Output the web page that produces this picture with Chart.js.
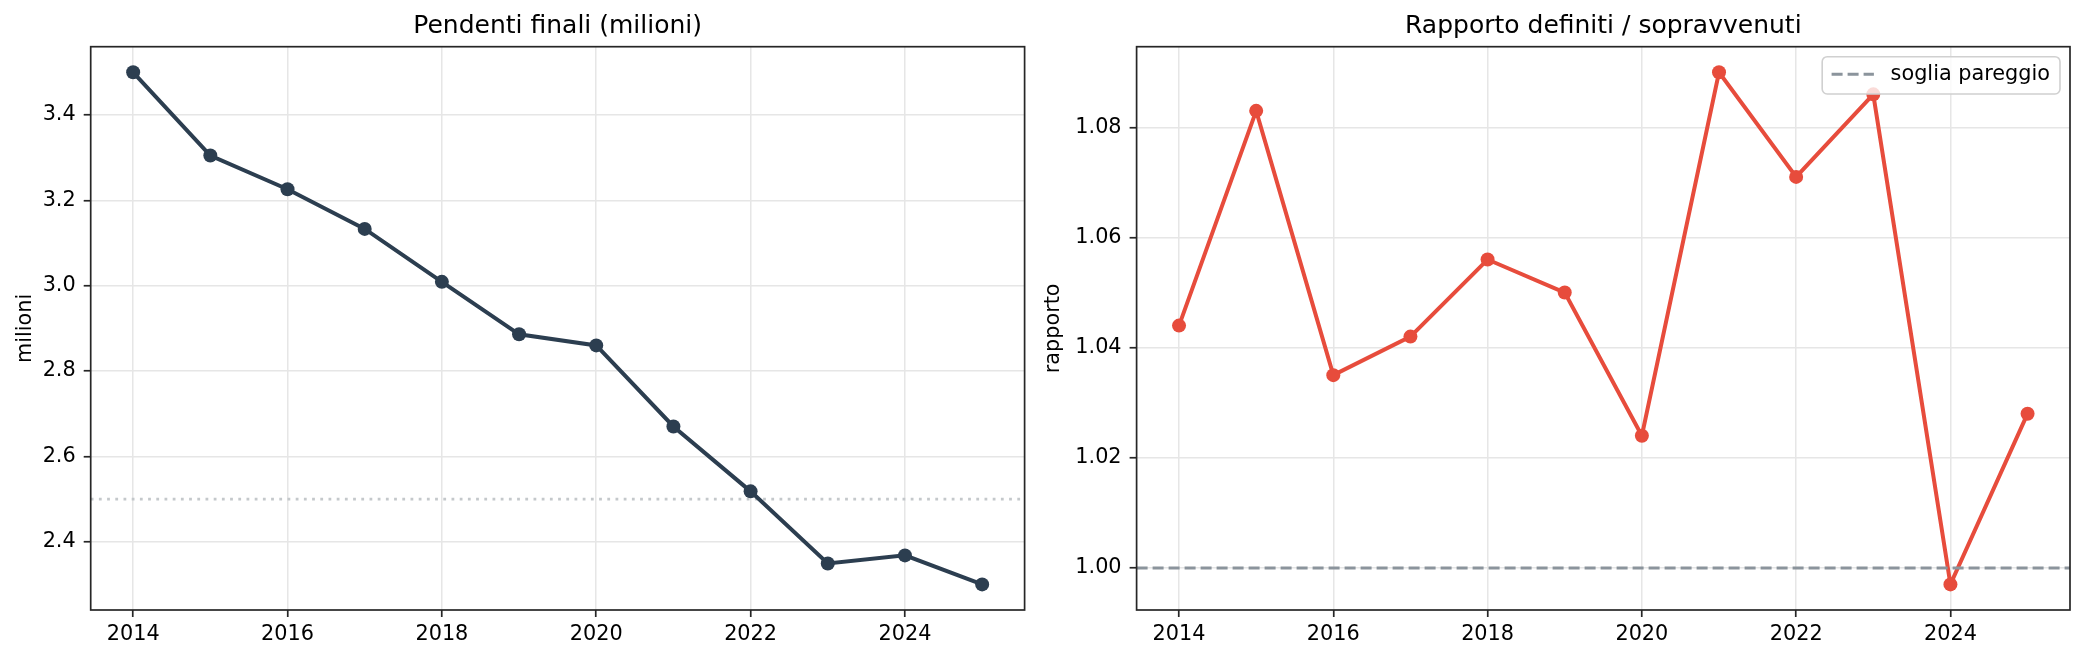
<!DOCTYPE html>
<html><head><meta charset="utf-8">
<script src="https://cdn.jsdelivr.net/npm/chart.js@4.4.0/dist/chart.umd.min.js"></script>
<style>
html,body{margin:0;padding:0;background:#fff;}
#wrap{position:relative;width:2085px;height:660px;overflow:hidden;background:#fff;}
.c{position:absolute;top:0;height:660px;}
#c1{left:0;width:1040px;}
#c2{left:1040px;width:1045px;}
</style></head><body>
<div id="wrap">
  <div class="c" id="c1"><canvas id="left"></canvas></div>
  <div class="c" id="c2"><canvas id="right"></canvas></div>
</div>
<script>
// ---- data ----
const years = [2014, 2015, 2016, 2017, 2018, 2019, 2020, 2021, 2022, 2023, 2024, 2025];
const pendenti = [3.500, 3.305, 3.226, 3.133, 3.009, 2.886, 2.860, 2.670, 2.518, 2.349, 2.368, 2.300];
const rapporto = [1.044, 1.083, 1.035, 1.042, 1.056, 1.050, 1.024, 1.090, 1.071, 1.086, 0.997, 1.028];
const xTicks = [2014, 2016, 2018, 2020, 2022, 2024];
const yTicksLeft = [2.4, 2.6, 2.8, 3.0, 3.2, 3.4];
const yTicksRight = [1.00, 1.02, 1.04, 1.06, 1.08];
const refLeft = 2.5;
const refRight = 1.0;
const titles = ['Pendenti finali (milioni)', 'Rapporto definiti / sopravvenuti'];
const yLabels = ['milioni', 'rapporto'];
const legendLabel = 'soglia pareggio';

// ---- helpers ----
const FONT = "'DejaVu Sans', sans-serif";
Chart.defaults.font.family = FONT;
Chart.defaults.color = '#000';

function pad(arr, frac) {
  const lo = Math.min(...arr), hi = Math.max(...arr), m = (hi - lo) * frac;
  return [lo - m, hi + m];
}
const [xMin, xMax] = pad(years, 0.05);
const [lMin, lMax] = pad(pendenti, 0.05);
const [rMin, rMax] = pad(rapporto, 0.05);

const framePlugin = {
  id: 'frame',
  afterDatasetsDraw(chart) {
    const {ctx, chartArea: a} = chart;
    ctx.save();
    ctx.strokeStyle = '#262626';
    ctx.lineWidth = 1.7;
    ctx.strokeRect(a.left, a.top, a.right - a.left, a.bottom - a.top);
    ctx.restore();
  }
};

const legendPlugin = {
  id: 'boxLegend',
  afterDatasetsDraw(chart) {
    const ds = chart.data.datasets.find(d => d.inLegend);
    if (!ds) return;
    const {ctx, chartArea: a} = chart;
    ctx.save();
    ctx.font = '20.8px ' + FONT;
    const tw = ctx.measureText(ds.label).width;
    const padL = 9.4, lineLen = 42.3, gap = 16.7, padR = 10;
    const w = padL + lineLen + gap + tw + padR, h = 37.3;
    const x = a.right - 10 - w, y = a.top + 10;
    ctx.beginPath();
    ctx.roundRect(x, y, w, h, 5);
    ctx.fillStyle = 'rgba(255,255,255,0.8)';
    ctx.fill();
    ctx.strokeStyle = '#d0d0d0';
    ctx.lineWidth = 1.6;
    ctx.stroke();
    const cy = y + h / 2;
    ctx.beginPath();
    ctx.setLineDash(ds.borderDash);
    ctx.strokeStyle = ds.borderColor;
    ctx.lineWidth = ds.borderWidth;
    ctx.moveTo(x + padL, cy - 1);
    ctx.lineTo(x + padL + lineLen, cy - 1);
    ctx.stroke();
    ctx.setLineDash([]);
    ctx.fillStyle = '#000';
    ctx.textBaseline = 'middle';
    ctx.textAlign = 'left';
    ctx.fillText(ds.label, x + padL + lineLen + gap, cy - 1);
    ctx.restore();
  }
};

function makeOptions(title, yLabel, yMin, yMax, yTicks, yDec, yWidth, yTitlePad) {
  return {
    responsive: true,
    maintainAspectRatio: false,
    devicePixelRatio: 1,
    animation: false,
    events: [],
    layout: {padding: {left: 0, right: 15.4, top: 0, bottom: 0}},
    plugins: {
      legend: {display: false},
      tooltip: {enabled: false},
      title: {
        display: true, text: title, fullSize: false,
        color: '#000',
        font: {size: 25, weight: 'normal', family: FONT},
        padding: {top: 11, bottom: 5.7}
      }
    },
    scales: {
      x: {
        type: 'linear', min: xMin, max: xMax,
        afterBuildTicks: s => { s.ticks = xTicks.map(v => ({value: v})); },
        afterFit: s => { s.height = 50; },
        ticks: {
          autoSkip: false, maxRotation: 0, padding: 5, color: '#000',
          font: {size: 20.8, family: FONT},
          callback: v => String(v)
        },
        grid: {color: '#e6e6e6', lineWidth: 1.5, tickLength: 7, tickColor: '#262626', tickWidth: 1.7},
        border: {display: false}
      },
      y: {
        type: 'linear', min: yMin, max: yMax,
        afterBuildTicks: s => { s.ticks = yTicks.map(v => ({value: v})); },
        afterFit: s => { s.width = yWidth; },
        ticks: {
          autoSkip: false, padding: 8, color: '#000',
          font: {size: 20.8, family: FONT},
          callback: v => Number(v).toFixed(yDec)
        },
        grid: {color: '#e6e6e6', lineWidth: 1.5, tickLength: 7, tickColor: '#262626', tickWidth: 1.7},
        border: {display: false},
        title: {
          display: true, text: yLabel, color: '#000',
          font: {size: 20.8, family: FONT},
          padding: {top: yTitlePad, bottom: 0}
        }
      }
    }
  };
}

const leftOpts = makeOptions(titles[0], yLabels[0], lMin, lMax, yTicksLeft, 1, 90.7, 13.6);
new Chart(document.getElementById('left'), {
  type: 'line',
  data: {
    datasets: [
      {
        label: 'Pendenti finali',
        data: years.map((y, i) => ({x: y, y: pendenti[i]})),
        borderColor: '#2c3e50', backgroundColor: '#2c3e50',
        pointBackgroundColor: '#2c3e50', pointBorderWidth: 0,
        borderWidth: 4, pointRadius: 7, tension: 0, order: 0
      },
      {
        label: 'riferimento',
        data: [{x: xMin, y: refLeft}, {x: xMax, y: refLeft}],
        borderColor: '#c4c8cb', borderWidth: 2.8,
        borderDash: [2.8, 5.4], pointRadius: 0, tension: 0, order: 1
      }
    ]
  },
  options: leftOpts,
  plugins: [framePlugin]
});

const rightOpts = makeOptions(titles[1], yLabels[1], rMin, rMax, yTicksRight, 2, 96.6, 1.3);
rightOpts.layout.padding.right = 15;
new Chart(document.getElementById('right'), {
  type: 'line',
  data: {
    datasets: [
      {
        label: 'Rapporto',
        data: years.map((y, i) => ({x: y, y: rapporto[i]})),
        borderColor: '#e74c3c', backgroundColor: '#e74c3c',
        pointBackgroundColor: '#e74c3c', pointBorderWidth: 0,
        borderWidth: 4, pointRadius: 7, tension: 0, order: 1
      },
      {
        label: legendLabel, inLegend: true,
        data: [{x: xMin, y: refRight}, {x: xMax, y: refRight}],
        borderColor: '#8b949c', borderWidth: 3,
        borderDash: [11, 5], pointRadius: 0, tension: 0, order: 0
      }
    ]
  },
  options: rightOpts,
  plugins: [framePlugin, legendPlugin]
});
</script>
</body></html>
